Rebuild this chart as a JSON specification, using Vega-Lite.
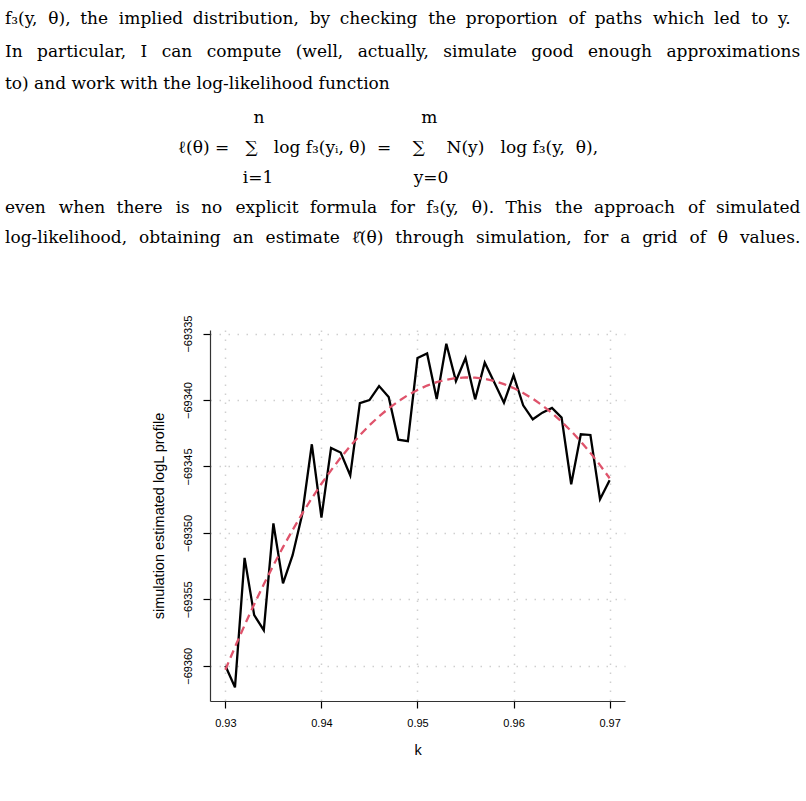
{
  "$schema": "https://vega.github.io/schema/vega-lite/v6.json",
  "width": 415,
  "height": 371,
  "autosize": {"type": "none"},
  "padding": {"left": 210, "top": 330, "right": 181, "bottom": 100},
  "background": "white",
  "title": {
    "text": [
      "f₃(y,\u00a0\u00a0θ),\u00a0\u2005the\u00a0\u00a0implied\u00a0\u2005distribution,\u00a0\u00a0by\u00a0\u2005checking\u00a0\u00a0the\u00a0\u2005proportion\u00a0\u00a0of\u00a0\u2005paths\u00a0\u00a0which\u00a0\u2005led\u00a0\u00a0to\u00a0\u2005y.",
      "In\u00a0\u2004\u2009particular,\u00a0\u2004\u2009I\u00a0\u2004\u2009can\u00a0\u2004\u2009compute\u00a0\u2004\u2009(well,\u00a0\u2004\u2009actually,\u00a0\u2004\u2009simulate\u00a0\u2004\u2009good\u00a0\u2004\u2009enough\u00a0\u2004\u2009approximations",
      "to) and work with the log-likelihood function"
    ],
    "subtitle": [
      "\u200b\u00a0\u00a0\u00a0\u00a0\u00a0\u00a0\u00a0\u00a0\u00a0\u00a0\u00a0\u00a0\u00a0\u00a0\u00a0\u00a0\u00a0\u00a0\u00a0\u00a0\u00a0\u00a0\u00a0\u00a0\u00a0\u00a0\u00a0\u00a0\u00a0\u00a0\u00a0\u00a0\u00a0\u00a0\u00a0\u00a0\u00a0\u00a0\u00a0\u00a0\u00a0\u00a0\u00a0\u00a0\u00a0\u00a0n\u00a0\u00a0\u00a0\u00a0\u00a0\u00a0\u00a0\u00a0\u00a0\u00a0\u00a0\u00a0\u00a0\u00a0\u00a0\u00a0\u00a0\u00a0\u00a0\u00a0\u00a0\u00a0\u00a0\u00a0\u00a0\u00a0\u00a0\u00a0\u00a0m",
      "\u200b\u00a0\u00a0\u00a0\u00a0\u00a0\u00a0\u00a0\u00a0\u00a0\u00a0\u00a0\u00a0\u00a0\u00a0\u00a0\u00a0\u00a0\u00a0\u00a0\u00a0\u00a0\u00a0\u00a0\u00a0\u00a0\u00a0\u00a0\u00a0\u00a0\u00a0\u00a0\u00a0ℓ(θ)\u00a0=\u00a0\u00a0\u00a0∑\u00a0\u00a0\u00a0log f₃(yᵢ, θ)\u00a0\u00a0=\u00a0\u00a0\u00a0\u00a0∑\u00a0\u00a0\u00a0\u00a0N(y)\u00a0\u00a0\u00a0log\u00a0f₃(y,\u00a0\u00a0θ),",
      "\u200b\u00a0\u00a0\u00a0\u00a0\u00a0\u00a0\u00a0\u00a0\u00a0\u00a0\u00a0\u00a0\u00a0\u00a0\u00a0\u00a0\u00a0\u00a0\u00a0\u00a0\u00a0\u00a0\u00a0\u00a0\u00a0\u00a0\u00a0\u00a0\u00a0\u00a0\u00a0\u00a0\u00a0\u00a0\u00a0\u00a0\u00a0\u00a0\u00a0\u00a0\u00a0\u00a0\u00a0\u00a0i=1\u00a0\u00a0\u00a0\u00a0\u00a0\u00a0\u00a0\u00a0\u00a0\u00a0\u00a0\u00a0\u00a0\u00a0\u00a0\u00a0\u00a0\u00a0\u00a0\u00a0\u00a0\u00a0\u00a0\u00a0\u00a0\u00a0y=0",
      "even\u00a0\u2005\u2009when\u00a0\u2005\u200athere\u00a0\u2005\u2009is\u00a0\u2005\u200ano\u00a0\u2005\u2009explicit\u00a0\u2005\u200aformula\u00a0\u2005\u2009for\u00a0\u2005\u200af₃(y,\u00a0\u2005\u2009θ).\u00a0\u2005\u200aThis\u00a0\u2005\u2009the\u00a0\u2005\u200aapproach\u00a0\u2005\u2009of\u00a0\u2005\u200asimulated",
      "log-likelihood,\u2002\u2009obtaining\u2002\u2009an\u2002\u2009estimate\u2002\u2009ℓ̂(θ)\u2002\u2009through\u2002\u2009simulation,\u2002\u2009for\u2002\u2009a\u2002\u2009grid\u2002\u2009of\u2002\u2009θ\u2002\u2009values."
    ],
    "anchor": "start",
    "frame": "group",
    "dx": -205,
    "offset": 68,
    "font": "DejaVu Serif",
    "fontSize": 17,
    "fontWeight": "normal",
    "color": "black",
    "lineHeight": 32.5,
    "subtitleFont": "DejaVu Serif",
    "subtitleFontSize": 17,
    "subtitleColor": "black",
    "subtitleLineHeight": 30,
    "subtitlePadding": 17
  },
  "data": {
    "values": [
      {"k": 0.930, "sim": -69360.0, "fit": -69360.30},
      {"k": 0.931, "sim": -69361.62, "fit": -69358.59},
      {"k": 0.932, "sim": -69351.88, "fit": -69356.95},
      {"k": 0.933, "sim": -69356.19, "fit": -69355.37},
      {"k": 0.934, "sim": -69357.32, "fit": -69353.87},
      {"k": 0.935, "sim": -69349.29, "fit": -69352.44},
      {"k": 0.936, "sim": -69353.80, "fit": -69351.07},
      {"k": 0.937, "sim": -69351.68, "fit": -69349.78},
      {"k": 0.938, "sim": -69348.6, "fit": -69348.55},
      {"k": 0.939, "sim": -69343.33, "fit": -69347.39},
      {"k": 0.940, "sim": -69348.84, "fit": -69346.30},
      {"k": 0.941, "sim": -69343.6, "fit": -69345.29},
      {"k": 0.942, "sim": -69343.95, "fit": -69344.34},
      {"k": 0.943, "sim": -69345.68, "fit": -69343.46},
      {"k": 0.944, "sim": -69340.23, "fit": -69342.65},
      {"k": 0.945, "sim": -69340.0, "fit": -69341.90},
      {"k": 0.946, "sim": -69338.95, "fit": -69341.23},
      {"k": 0.947, "sim": -69339.77, "fit": -69340.63},
      {"k": 0.948, "sim": -69342.98, "fit": -69340.10},
      {"k": 0.949, "sim": -69343.1, "fit": -69339.63},
      {"k": 0.950, "sim": -69336.84, "fit": -69339.24},
      {"k": 0.951, "sim": -69336.5, "fit": -69338.91},
      {"k": 0.952, "sim": -69339.93, "fit": -69338.65},
      {"k": 0.953, "sim": -69335.76, "fit": -69338.47},
      {"k": 0.954, "sim": -69338.57, "fit": -69338.35},
      {"k": 0.955, "sim": -69336.84, "fit": -69338.30},
      {"k": 0.956, "sim": -69339.95, "fit": -69338.32},
      {"k": 0.957, "sim": -69337.19, "fit": -69338.41},
      {"k": 0.958, "sim": -69338.69, "fit": -69338.57},
      {"k": 0.959, "sim": -69340.2, "fit": -69338.80},
      {"k": 0.960, "sim": -69338.14, "fit": -69339.10},
      {"k": 0.961, "sim": -69340.4, "fit": -69339.47},
      {"k": 0.962, "sim": -69341.45, "fit": -69339.90},
      {"k": 0.963, "sim": -69340.95, "fit": -69340.41},
      {"k": 0.964, "sim": -69340.6, "fit": -69340.98},
      {"k": 0.965, "sim": -69341.32, "fit": -69341.63},
      {"k": 0.966, "sim": -69346.34, "fit": -69342.34},
      {"k": 0.967, "sim": -69342.58, "fit": -69343.12},
      {"k": 0.968, "sim": -69342.63, "fit": -69343.98},
      {"k": 0.969, "sim": -69347.47, "fit": -69344.90},
      {"k": 0.970, "sim": -69346.04, "fit": -69345.89}
    ]
  },
  "encoding": {
    "x": {
      "field": "k",
      "type": "quantitative",
      "scale": {"domain": [0.9284, 0.9716], "nice": false, "zero": false},
      "axis": {
        "title": "k",
        "values": [0.93, 0.94, 0.95, 0.96, 0.97],
        "format": ".2f",
        "tickSize": 7,
        "labelPadding": 9,
        "titlePadding": 15,
        "labelFlush": false
      }
    }
  },
  "layer": [
    {
      "mark": {"type": "line", "color": "black", "strokeWidth": 2.3, "strokeJoin": "miter", "clip": true},
      "encoding": {
        "y": {
          "field": "sim",
          "type": "quantitative",
          "scale": {"domain": [-69362.65, -69334.73], "nice": false, "zero": false},
          "axis": {
            "title": "simulation estimated logL profile",
            "values": [-69360, -69355, -69350, -69345, -69340, -69335],
            "format": "d",
            "tickSize": 7,
            "labelAngle": 270,
            "labelAlign": "center",
            "labelBaseline": "bottom",
            "labelPadding": 10,
            "titlePadding": 16,
            "labelFlush": false
          }
        }
      }
    },
    {
      "mark": {"type": "line", "color": "#DF536B", "strokeWidth": 2.3, "strokeDash": [8, 5], "clip": true},
      "encoding": {
        "y": {"field": "fit", "type": "quantitative"}
      }
    }
  ],
  "config": {
    "view": {"stroke": null},
    "axis": {
      "domainColor": "#333333",
      "domainWidth": 1.2,
      "tickColor": "black",
      "tickWidth": 1.2,
      "labelFont": "Liberation Sans",
      "labelFontSize": 11,
      "labelColor": "black",
      "titleFont": "Liberation Sans",
      "titleFontSize": 14.5,
      "titleFontWeight": "normal",
      "titleColor": "black",
      "grid": true,
      "gridColor": "#cfcfcf",
      "gridDash": [1.5, 7.5],
      "gridWidth": 1.5
    }
  }
}
